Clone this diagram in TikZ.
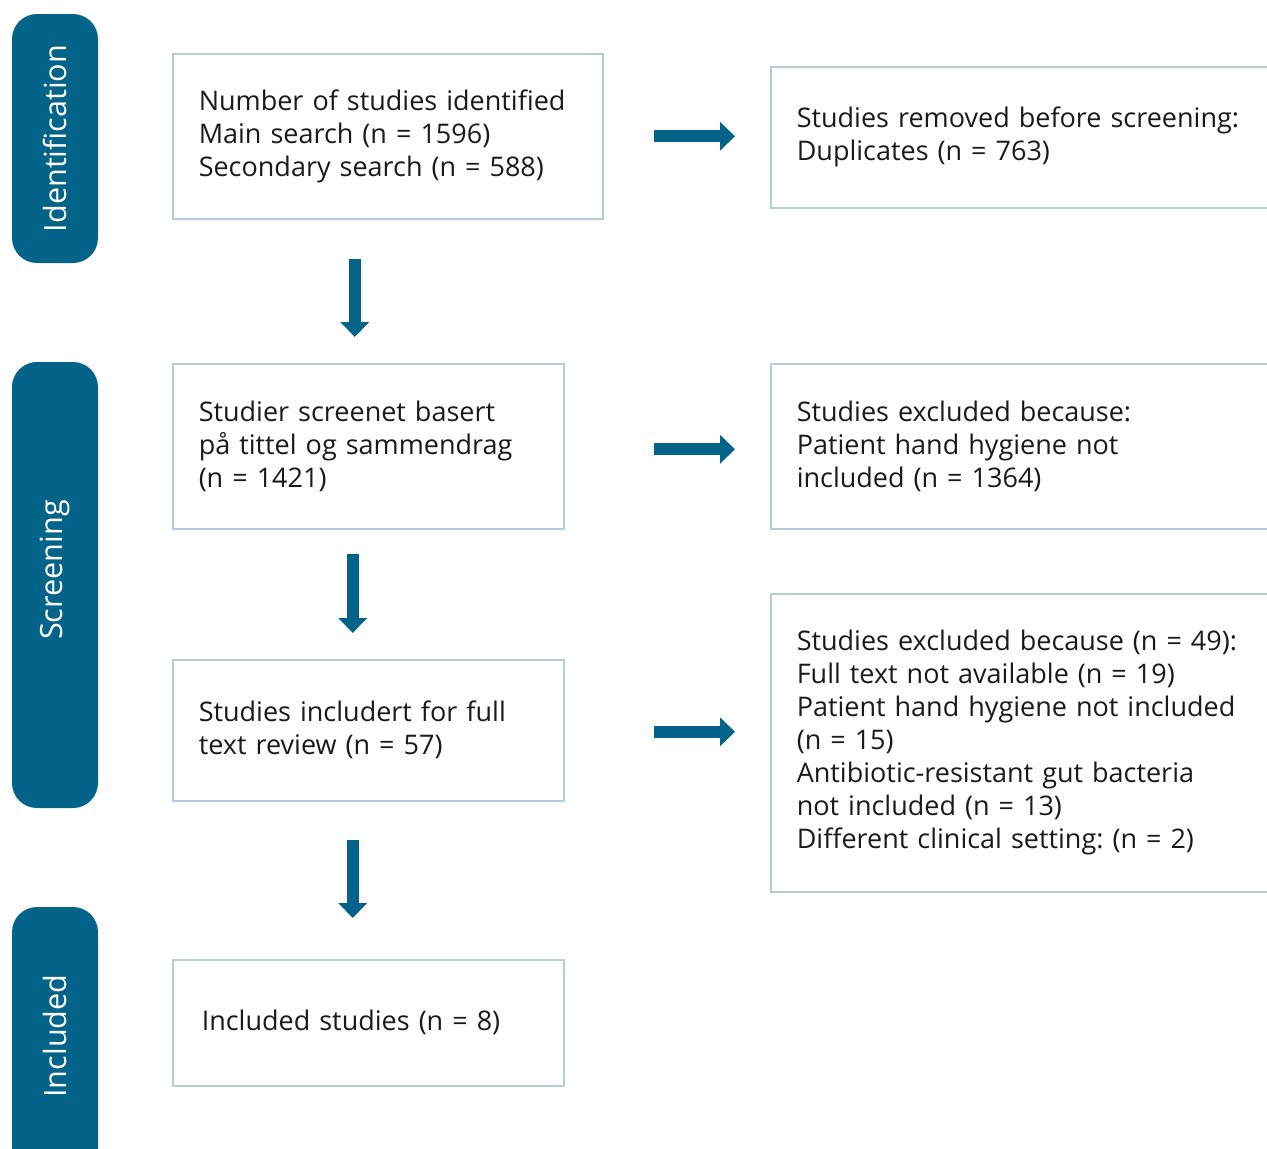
\documentclass[tikz,border=0pt]{standalone}
\usepackage{fontspec}
\setmainfont{Open Sans}
\usetikzlibrary{arrows.meta,positioning}
\definecolor{tabteal}{RGB}{4,99,137}
\definecolor{boxline}{RGB}{182,204,218}
\definecolor{boxtext}{RGB}{26,26,26}
\frenchspacing

\tikzset{
  stagetab/.style={fill=tabteal, rounded corners=12.5pt, minimum height=43pt, rotate=90, inner sep=0pt},
  tablabel/.style={rotate=90, text=white, inner sep=0pt, font=\fontsize{15.3}{18}\selectfont},
  flowbox/.style={draw=boxline, line width=0.75pt, anchor=north west, align=left,
    inner xsep=13pt, inner ysep=0pt, text=boxtext, font=\fontsize{13.5}{16.5}\selectfont},
  fatarrow/.style={draw=tabteal, line width=6pt, -{Triangle[width=14pt,length=7.5pt]}}
}

\begin{document}
\begin{tikzpicture}[x=0.5pt,y=-0.5pt]
  \useasboundingbox (0,0) rectangle (1267,1148);
  \clip (0,0) rectangle (1267,1148);

  % stage tabs
  \node[stagetab, minimum width=124.5pt] (identtab) at (55,138.5) {};
  \node[tablabel] (identlabel) at (55,138.5) {Identification};
  \node[stagetab, minimum width=223pt] (screentab) at (55,585) {};
  \node[tablabel] (screenlabel) at (55,570) {Screening};
  \node[stagetab, minimum width=136.5pt] (incltab) at (55,1043.5) {};
  \node[tablabel] (incllabel) at (55,1036) {Included};

  % main column
  \node[flowbox, minimum width=215pt, minimum height=82.5pt, text width=189pt] (ident) at (172,53)
    {Number of studies identified\\Main search (n = 1596)\\Secondary search (n = 588)};
  \node[flowbox, minimum width=195.5pt, minimum height=82.5pt, text width=169.5pt] (screened) at (172,363)
    {Studier screenet basert\\på tittel og sammendrag\\(n = 1421)};
  \node[flowbox, minimum width=195.5pt, minimum height=70.5pt, text width=169.5pt] (fulltext) at (172,659)
    {Studies includert for full\\text review (n = 57)};
  \node[flowbox, minimum width=195.5pt, minimum height=63pt, text width=166.5pt, inner xsep=14.5pt] (included) at (172,959)
    {Included studies (n = 8)};

  % exclusions
  \node[flowbox, minimum width=265pt, minimum height=70.5pt, text width=239pt] (dupl) at (770,66)
    {Studies removed before screening:\\Duplicates (n = 763)};
  \node[flowbox, minimum width=265pt, minimum height=82.5pt, text width=239pt] (excl1) at (770,363)
    {Studies excluded because:\\Patient hand hygiene not\\included (n = 1364)};
  \node[flowbox, minimum width=265pt, minimum height=149pt, text width=239pt] (excl2) at (770,593)
    {Studies excluded because (n = 49):\\Full text not available (n = 19)\\Patient hand hygiene not included\\(n = 15)\\Antibiotic-resistant gut bacteria\\not included (n = 13)\\Different clinical setting: (n = 2)};

  % arrows
  \coordinate (down1) at ([xshift=-16.5pt,yshift=-19.5pt]ident.south);
  \coordinate (down2) at ([xshift=-7.75pt,yshift=-12pt]screened.south);
  \coordinate (down3) at ([xshift=-7.75pt,yshift=-19pt]fulltext.south);
  \draw[fatarrow, shorten >=13pt] (down1) -- (down1 |- screened.north);
  \draw[fatarrow, shorten >=13pt] (down2) -- (down2 |- fulltext.north);
  \draw[fatarrow, shorten >=20.5pt] (down3) -- (down3 |- included.north);
  \draw[fatarrow, shorten <=25pt, shorten >=17.5pt] (ident.east) -- (ident.east -| dupl.west);
  \draw[fatarrow, shorten <=44.5pt, shorten >=17.5pt] ([yshift=-1.5pt]screened.east) -- ([yshift=-1.5pt]screened.east -| excl1.west);
  \draw[fatarrow, shorten <=44.5pt, shorten >=17.5pt] ([yshift=-0.75pt]fulltext.east) -- ([yshift=-0.75pt]fulltext.east -| excl2.west);
\end{tikzpicture}
\end{document}
